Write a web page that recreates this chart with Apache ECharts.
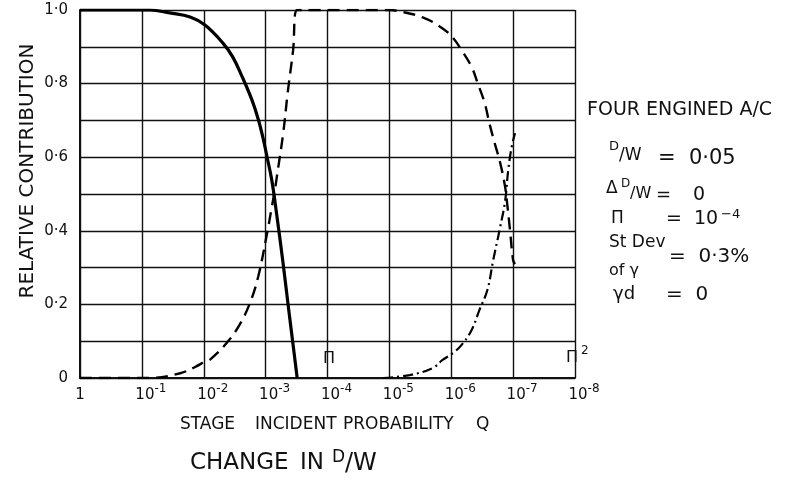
<!DOCTYPE html>
<html>
<head>
<meta charset="utf-8">
<script src="https://cdn.jsdelivr.net/npm/echarts@6/dist/echarts.min.js"></script>
<style>
  html, body { margin: 0; padding: 0; background: #fff; }
  #chart { width: 796px; height: 483px; }
</style>
</head>
<body>
<div id="chart"></div>
<script>
// Stage incident probability Q (decades from 1 down to 1e-8)
const xTickExponents = [0, -1, -2, -3, -4, -5, -6, -7, -8];
const yTickLabels = { 0: '0', 0.2: '0·2', 0.4: '0·4', 0.6: '0·6', 0.8: '0·8', 1: '1·0' };

// Solid curve: relative contribution falling off around Q = 1e-3
const solidQ = [1, 7.41e-2, 3.55e-2, 1.66e-2, 9.55e-3, 4.9e-3, 3.39e-3, 2.34e-3, 1.66e-3, 1.32e-3,
  1.10e-3, 9.55e-4, 7.94e-4, 6.61e-4, 5.25e-4, 4.37e-4, 3.63e-4, 3.09e-4];
const solidVal = [1, 1, 0.992, 0.981, 0.959, 0.91, 0.872, 0.815, 0.755, 0.704,
  0.652, 0.603, 0.537, 0.443, 0.315, 0.204, 0.095, 0];

// Dashed curve: rises near 1e-3, stays at 1, falls again near 1e-7
const dashQ = [1, 7.4e-2, 2.4e-2, 1.38e-2, 9.5e-3, 7.9e-3, 4.27e-3, 2.63e-3, 1.78e-3, 1.32e-3,
  9.55e-4, 7.94e-4, 7.1e-4, 6.6e-4, 5.2e-4, 4.4e-4, 3.6e-4, 3.09e-4,
  1e-5, 7.6e-6, 2.9e-6, 1.38e-6, 9.33e-7, 6.76e-7, 4.68e-7, 3.72e-7, 2.88e-7, 2.4e-7,
  2.0e-7, 1.62e-7, 1.35e-7, 1.26e-7, 1.12e-7, 1.0e-7, 9.3e-8];
const dashVal = [0, 0, 0.013, 0.03, 0.045, 0.05, 0.095, 0.145, 0.205, 0.275,
  0.39, 0.465, 0.51, 0.546, 0.665, 0.775, 0.89, 1,
  1, 0.998, 0.98, 0.95, 0.924, 0.89, 0.845, 0.80, 0.747, 0.69,
  0.64, 0.585, 0.52, 0.48, 0.40, 0.32, 0.31];

// Dash-dot curve: rising towards Q = 1e-7
const dashDotQ = [1.26e-5, 4.7e-6, 2.0e-6, 1.38e-6, 9.33e-7, 6.8e-7, 4.7e-7, 3.5e-7, 2.6e-7,
  2.1e-7, 1.62e-7, 1.35e-7, 1.2e-7, 1.05e-7, 9.3e-8];
const dashDotVal = [0, 0.008, 0.027, 0.049, 0.068, 0.09, 0.13, 0.185, 0.24,
  0.32, 0.41, 0.48, 0.565, 0.63, 0.665];

const zip = (xs, ys) => xs.map((x, i) => [x, ys[i]]);

const FONT = '"DejaVu Sans", sans-serif';
const INK = '#111';

function txt(x, y, text, size) {
  return {
    type: 'text', left: x, top: y,
    style: { text: text, fontSize: size, fontFamily: FONT, fill: INK }
  };
}

const chart = echarts.init(document.getElementById('chart'), null, { renderer: 'canvas' });

chart.setOption({
  animation: false,
  backgroundColor: '#fff',
  grid: { left: 80, right: 221, top: 10, bottom: 105, containLabel: false },
  xAxis: {
    type: 'log',
    logBase: 10,
    min: 1e-8,
    max: 1,
    inverse: true,
    splitNumber: 8,
    axisLine: { show: true, lineStyle: { color: INK, width: 2 } },
    axisTick: { show: false },
    splitLine: { show: true, lineStyle: { color: INK, width: 1.4 } },
    minorSplitLine: { show: false },
    axisLabel: {
      margin: 5,
      color: INK,
      formatter: function (v) {
        const e = Math.round(Math.log10(v));
        if (!xTickExponents.includes(e)) return '';
        if (e === 0) return '{n|1}';
        return '{p|}{n|10}{s|' + e + '}';
      },
      rich: {
        p: { width: 18, lineHeight: 20 },
        n: { fontSize: 15, fontFamily: FONT, color: INK, lineHeight: 20, verticalAlign: 'bottom' },
        s: { fontSize: 12, fontFamily: FONT, color: INK, lineHeight: 20, verticalAlign: 'top' }
      }
    }
  },
  yAxis: {
    type: 'value',
    min: 0,
    max: 1,
    interval: 0.1,
    axisLine: { show: true, lineStyle: { color: INK, width: 2 } },
    axisTick: { show: false },
    splitLine: { show: true, lineStyle: { color: INK, width: 1.4 } },
    axisLabel: {
      margin: 12,
      color: INK,
      fontSize: 15,
      fontFamily: FONT,
      formatter: function (v) {
        const k = Math.round(v * 10) / 10;
        return yTickLabels[k] !== undefined ? yTickLabels[k] : '';
      }
    }
  },
  series: [
    {
      type: 'line',
      data: zip(solidQ, solidVal),
      smooth: 0.4,
      symbol: 'none',
      lineStyle: { color: '#000', width: 3.2 },
      z: 5
    },
    {
      type: 'line',
      data: zip(dashQ, dashVal),
      smooth: 0.4,
      symbol: 'none',
      lineStyle: { color: '#000', width: 2.4, type: [12, 7] },
      z: 4
    },
    {
      type: 'line',
      data: zip(dashDotQ, dashDotVal),
      smooth: 0.4,
      symbol: 'none',
      lineStyle: { color: '#000', width: 2.2, type: [10, 4, 2, 4] },
      z: 4
    }
  ],
  graphic: [
    // axis titles
    {
      type: 'text', x: 28, y: 171, rotation: Math.PI / 2,
      style: { text: 'RELATIVE CONTRIBUTION', fontSize: 20, fontFamily: FONT, fill: INK, align: 'center', verticalAlign: 'middle' }
    },
    txt(180, 416, 'STAGE', 17),
    txt(255, 416, 'INCIDENT', 17),
    txt(343, 416, 'PROBABILITY', 17),
    txt(476, 416, 'Q', 17),
    txt(190, 452, 'CHANGE', 23),
    txt(300, 452, 'IN', 23),
    txt(332, 449, 'D', 17),
    txt(345, 452, '/W', 24),
    // plot annotations
    txt(323, 351, 'Π', 16),
    txt(566, 350, 'Π', 16),
    txt(581, 345, '2', 12),
    // parameter block
    txt(587, 101, 'FOUR ENGINED A/C', 19),
    txt(609, 140, 'D', 13),
    txt(619, 147, '/W', 17),
    txt(658, 148, '=  0·05', 21),
    txt(606, 180, 'Δ', 17),
    txt(621, 178, 'D', 12),
    txt(630, 186, '/W', 16),
    txt(656, 186, '=', 18),
    txt(693, 186, '0', 19),
    txt(611, 210, 'Π', 17),
    txt(666, 210, '=  10', 19),
    txt(721, 208, '−4', 13),
    txt(609, 234, 'St Dev', 17),
    txt(669, 247, '=  0·3%', 20),
    txt(609, 263, 'of γ', 16),
    txt(613, 285, 'γd', 18),
    txt(666, 285, '=  0', 20)
  ]
});
</script>
</body>
</html>
